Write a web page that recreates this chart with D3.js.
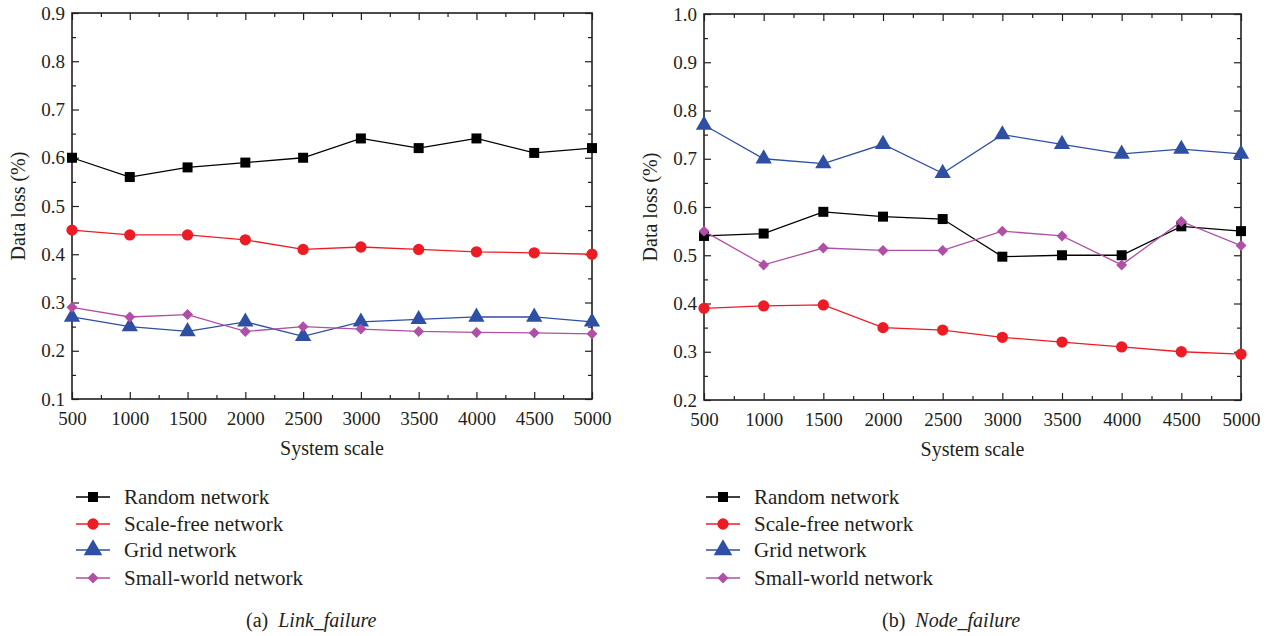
<!DOCTYPE html>
<html lang="en">
<head>
<meta charset="UTF-8">
<title>Data loss vs system scale</title>
<style>
    body { margin: 0; background: #fff; }
    svg text { font-family: "Liberation Serif", "DejaVu Serif", serif; fill: #231f20; }
</style>
</head>
<body>
<svg width="1272" height="636"></svg>
<script src="https://d3js.org/d3.v7.min.js"></script>
<script>
const scales = [500, 1000, 1500, 2000, 2500, 3000, 3500, 4000, 4500, 5000];
const seriesNames = ["Random network", "Scale-free network", "Grid network", "Small-world network"];

// (a) Link failure
const linkRandom = [0.60, 0.56, 0.58, 0.59, 0.60, 0.64, 0.62, 0.64, 0.61, 0.62];
const linkScaleFree = [0.45, 0.44, 0.44, 0.43, 0.41, 0.415, 0.41, 0.405, 0.403, 0.40];
const linkGrid = [0.27, 0.25, 0.24, 0.26, 0.23, 0.26, 0.265, 0.27, 0.27, 0.26];
const linkSmallWorld = [0.29, 0.27, 0.275, 0.24, 0.25, 0.245, 0.24, 0.238, 0.237, 0.235];

// (b) Node failure
const nodeRandom = [0.54, 0.545, 0.59, 0.58, 0.575, 0.497, 0.50, 0.50, 0.56, 0.55];
const nodeScaleFree = [0.39, 0.395, 0.397, 0.35, 0.345, 0.33, 0.32, 0.31, 0.30, 0.295];
const nodeGrid = [0.77, 0.70, 0.69, 0.73, 0.67, 0.75, 0.73, 0.71, 0.72, 0.71];
const nodeSmallWorld = [0.55, 0.48, 0.515, 0.51, 0.51, 0.55, 0.54, 0.48, 0.57, 0.52];

const leftTicks = [0.1, 0.2, 0.3, 0.4, 0.5, 0.6, 0.7, 0.8, 0.9];
const rightTicks = [0.2, 0.3, 0.4, 0.5, 0.6, 0.7, 0.8, 0.9, 1.0];

const colors = ["#000000", "#ed1c24", "#2e4fa3", "#b04fa6"];
const symbols = [d3.symbolSquare, d3.symbolCircle, d3.symbolTriangle, d3.symbolSquare];
const symSizes = [100, 100, 115, 60];
const symRotate = [0, 0, 0, 45];

const svg = d3.select("svg");

function drawPanel(opt) {
    const { left, top, right, bottom, yTicks, series, letter, title, legendX } = opt;
    const g = svg.append("g");
    const x = d3.scaleLinear().domain([500, 5000]).range([left, right]);
    const y = d3.scaleLinear().domain([yTicks[0], yTicks[yTicks.length - 1]]).range([bottom, top]);

    const xMinor = d3.range(750, 5000, 500);
    const yMinor = yTicks.slice(0, -1).map(t => t + 0.05);

    // inside ticks on all four sides
    const fmt = d3.format(".1f");
    g.append("g").attr("transform", `translate(0,${bottom})`)
        .call(d3.axisBottom(x).tickValues(scales).tickSizeInner(-7).tickSizeOuter(0).tickPadding(13).tickFormat(d3.format("d")));
    g.append("g").attr("transform", `translate(0,${bottom})`)
        .call(d3.axisBottom(x).tickValues(xMinor).tickSizeInner(-4).tickSizeOuter(0).tickFormat(""));
    g.append("g").attr("transform", `translate(0,${top})`)
        .call(d3.axisTop(x).tickValues(scales).tickSizeInner(-7).tickSizeOuter(0).tickFormat(""));
    g.append("g").attr("transform", `translate(0,${top})`)
        .call(d3.axisTop(x).tickValues(xMinor).tickSizeInner(-4).tickSizeOuter(0).tickFormat(""));
    g.append("g").attr("transform", `translate(${left},0)`)
        .call(d3.axisLeft(y).tickValues(yTicks).tickSizeInner(-7).tickSizeOuter(0).tickPadding(7).tickFormat(fmt));
    g.append("g").attr("transform", `translate(${left},0)`)
        .call(d3.axisLeft(y).tickValues(yMinor).tickSizeInner(-4).tickSizeOuter(0).tickFormat(""));
    g.append("g").attr("transform", `translate(${right},0)`)
        .call(d3.axisRight(y).tickValues(yTicks).tickSizeInner(-7).tickSizeOuter(0).tickFormat(""));
    g.append("g").attr("transform", `translate(${right},0)`)
        .call(d3.axisRight(y).tickValues(yMinor).tickSizeInner(-4).tickSizeOuter(0).tickFormat(""));

    g.selectAll(".domain").remove();
    g.selectAll(".tick line").attr("stroke", "#231f20").attr("stroke-width", 1.2);
    g.selectAll(".tick text").style("font-size", "19px").attr("fill", "#231f20");

    g.append("rect")
        .attr("x", left).attr("y", top)
        .attr("width", right - left).attr("height", bottom - top)
        .attr("fill", "none").attr("stroke", "#231f20").attr("stroke-width", 1.6);

    // series
    const line = d3.line().x((d, i) => x(scales[i])).y(d => y(d));
    series.forEach((vals, s) => {
        g.append("path").datum(vals)
            .attr("d", line)
            .attr("fill", "none")
            .attr("stroke", colors[s])
            .attr("stroke-width", 1.3);
        g.selectAll(null).data(vals).enter().append("path")
            .attr("d", d3.symbol().type(symbols[s]).size(symSizes[s]))
            .attr("transform", (d, i) => `translate(${x(scales[i])},${y(d)}) rotate(${symRotate[s]})`)
            .attr("fill", colors[s]);
    });

    // axis titles
    g.append("text")
        .attr("transform", `translate(${left - 47},${(top + bottom) / 2}) rotate(-90)`)
        .attr("text-anchor", "middle")
        .style("font-size", "20px")
        .text("Data loss (%)");
    g.append("text")
        .attr("x", (left + right) / 2).attr("y", bottom + 56)
        .attr("text-anchor", "middle")
        .style("font-size", "20px")
        .text("System scale");

    // legend
    const rowsY = [497, 524, 550, 578];
    seriesNames.forEach((name, s) => {
        const ly = rowsY[s];
        g.append("line")
            .attr("x1", legendX).attr("x2", legendX + 34)
            .attr("y1", ly).attr("y2", ly)
            .attr("stroke", colors[s]).attr("stroke-width", 1.3);
        g.append("path")
            .attr("d", d3.symbol().type(symbols[s]).size(s === 2 ? 150 : symSizes[s]))
            .attr("transform", `translate(${legendX + 17},${ly}) rotate(${symRotate[s]})`)
            .attr("fill", colors[s]);
        g.append("text")
            .attr("x", legendX + 48).attr("y", ly + 7)
            .style("font-size", "21px")
            .text(name);
    });

    // caption
    const cap = g.append("text")
        .attr("x", opt.captionX).attr("y", 627)
        .style("font-size", "20px")
        .attr("xml:space", "preserve");
    cap.append("tspan").text(`(${letter})  `);
    cap.append("tspan").style("font-style", "italic").text(title);
}

drawPanel({
    left: 72, top: 13, right: 592, bottom: 399,
    yTicks: leftTicks,
    series: [linkRandom, linkScaleFree, linkGrid, linkSmallWorld],
    letter: "a", title: "Link_failure",
    legendX: 76, captionX: 246
});

drawPanel({
    left: 704, top: 14, right: 1241, bottom: 400,
    yTicks: rightTicks,
    series: [nodeRandom, nodeScaleFree, nodeGrid, nodeSmallWorld],
    letter: "b", title: "Node_failure",
    legendX: 706, captionX: 882
});
</script>
</body>
</html>
